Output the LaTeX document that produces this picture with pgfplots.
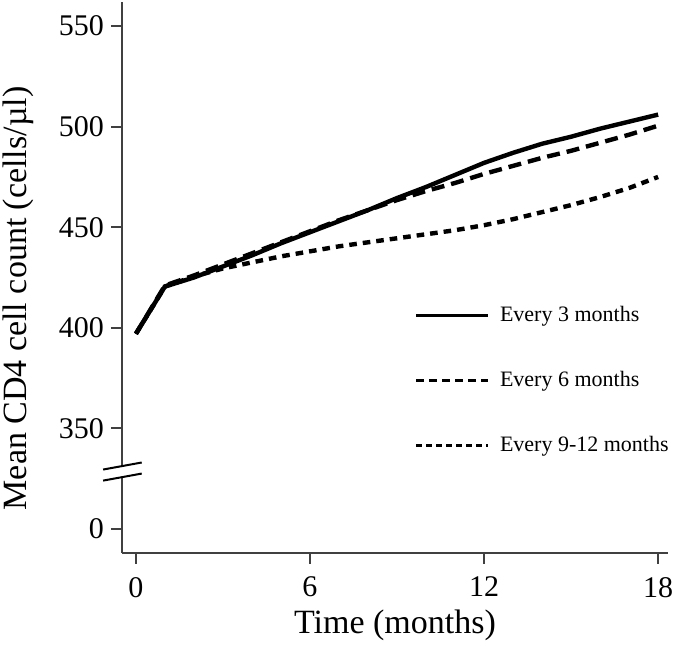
\documentclass[border=0pt]{standalone}
\usepackage{pgfplots}
\pgfplotsset{compat=1.18}
\usepackage{fontspec}
\setmainfont{Liberation Serif}

\begin{document}
\begin{tikzpicture}
\begin{axis}[
  name=ax,
  scale only axis, width=273pt, height=275.5pt,
  xmin=-0.48, xmax=18.34, ymin=-12, ymax=262,
  axis x line*=bottom, axis y line*=left,
  axis line style={draw=black!75, line width=0.9pt},
  xtick={0,6,12,18},
  ytick={0,50,100,150,200,250},
  yticklabels={0,350,400,450,500,550},
  tick align=outside, major tick length=5.5pt,
  tick style={draw=black!75, line width=0.9pt},
  ticklabel style={font=\fontsize{15}{15}\selectfont},
  xticklabel style={yshift=-3pt},
  /pgf/number format/assume math mode=true,
  xlabel={Time (months)},
  ylabel={Mean CD4 cell count (cells/µl)},
  label style={font=\fontsize{17}{17}\selectfont},
  xlabel style={at={(axis description cs:0.5,0)}, anchor=center, yshift=-36pt},
  ylabel style={at={(axis description cs:0,0.462)}, anchor=center, yshift=52pt},
  y filter/.expression={y-300},
  clip=false,
  legend style={draw=none, fill=none, at={(axis cs:9.6,113)}, anchor=north west,
    font=\fontsize{11}{11}\selectfont, row sep=19.5pt, inner sep=0pt, column sep=3pt},
  legend cell align=left,
]
\addplot[black, line width=2.2pt,
  legend image code/.code={\draw[black, line width=1.6pt] (0pt,0pt) -- (36pt,0pt);}]
  table {
  x y
  0 397
  1 420.5
  2 425
  3 430.5
  4 436
  5 442
  6 447.5
  7 453
  8 458.5
  9 464.5
  10 470
  11 476
  12 482
  13 487
  14 491.5
  15 495
  16 499
  17 502.5
  18 506
  };
\addlegendentry{Every 3 months}
\addplot[black, line width=2.2pt, dash pattern=on 6.5pt off 3.5pt,
  legend image code/.code={\draw[black, line width=1.6pt, dash pattern=on 4pt off 2.5pt] (0pt,0pt) -- (36pt,0pt);}]
  table {
  x y
  0 397
  1 421
  2 426
  3 431.5
  4 437
  5 442.5
  6 448
  7 453.5
  8 458.5
  9 463.5
  10 468
  11 472
  12 476.5
  13 480.5
  14 484.5
  15 488
  16 492
  17 496
  18 500.5
  };
\addlegendentry{Every 6 months}
\addplot[black, line width=2.2pt, dash pattern=on 3.8pt off 3pt,
  legend image code/.code={\draw[black, line width=1.6pt, dash pattern=on 2.8pt off 2.2pt] (0pt,0pt) -- (36pt,0pt);}]
  table {
  x y
  0 397
  1 420.5
  2 425.5
  3 429.5
  4 432.5
  5 435.5
  6 438
  7 440.5
  8 442.5
  9 444.5
  10 446.5
  11 448.5
  12 451
  13 454
  14 457.5
  15 461
  16 465
  17 469.5
  18 475
  };
\addlegendentry{Every 9-12 months}
\fill[white] (axis cs:-1.13,24) -- (axis cs:0.2,27.5) -- (axis cs:0.2,33) -- (axis cs:-1.13,29.5) -- cycle;
\draw[line width=1pt] (axis cs:-1.13,29.5) -- (axis cs:0.2,33);
\draw[line width=1pt] (axis cs:-1.13,24) -- (axis cs:0.2,27.5);
\end{axis}
\pgfresetboundingbox
\useasboundingbox ([xshift=-61pt,yshift=-52pt]ax.south west) rectangle ([xshift=3pt,yshift=1pt]ax.north east);
\end{tikzpicture}
\end{document}
